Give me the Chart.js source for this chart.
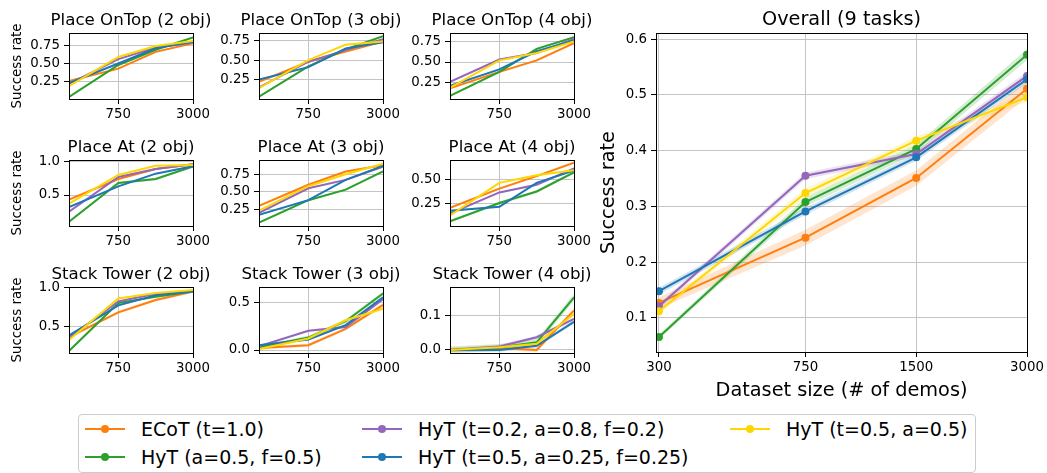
<!DOCTYPE html>
<html>
<head>
<meta charset="utf-8">
<script src="https://cdn.jsdelivr.net/npm/chart.js@4.4.1/dist/chart.umd.min.js"></script>
<style>
  html, body { margin: 0; padding: 0; background: #fff; overflow: hidden; }
  body { position: relative; width: 1047px; height: 473px; font-family: 'DejaVu Sans', sans-serif; }
  canvas { position: absolute; }
  .lg-box { position: absolute; left: 78px; top: 414px; width: 898px; height: 59px; box-sizing: border-box;
            border: 1px solid #cccccc; border-radius: 4px; background: rgba(255,255,255,0.8); }
  .lg-line { position: absolute; width: 40px; height: 2px; }
  .lg-dot { position: absolute; width: 8px; height: 8px; border-radius: 50%; }
  .lg-text { position: absolute; font-size: 19px; line-height: 22.8px; white-space: nowrap; color: #000; }
</style>
</head>
<body>
<div class="lg-box"></div>
<script>
// x values (number of demos), shared by every panel
const DEMOS = [300, 750, 1500, 3000];
const SMALL_XTICKS = [750, 3000];
const BIG_XTICKS = [300, 750, 1500, 3000];

const SERIES = [
    'ECoT (t=1.0)',
    'HyT (a=0.5, f=0.5)',
    'HyT (t=0.2, a=0.8, f=0.2)',
    'HyT (t=0.5, a=0.25, f=0.25)',
    'HyT (t=0.5, a=0.5)'
];
const COLORS = ['#ff7f0e', '#2ca02c', '#9467bd', '#1f77b4', '#ffd700'];
const BANDS = ['rgba(255,127,14,0.2)', 'rgba(44,160,44,0.2)', 'rgba(148,103,189,0.2)', 'rgba(31,119,180,0.2)', 'rgba(255,215,0,0.2)'];

const TASKS = [
    'Place OnTop (2 obj)', 'Place OnTop (3 obj)', 'Place OnTop (4 obj)',
    'Place At (2 obj)', 'Place At (3 obj)', 'Place At (4 obj)',
    'Stack Tower (2 obj)', 'Stack Tower (3 obj)', 'Stack Tower (4 obj)'
];

// one row per series (same order as SERIES), one value per DEMOS entry
const onTop2 = [
    [0.26, 0.43, 0.66, 0.78],
    [0.04, 0.48, 0.69, 0.86],
    [0.22, 0.56, 0.72, 0.79],
    [0.23, 0.50, 0.71, 0.80],
    [0.19, 0.59, 0.74, 0.81]
];
const onTop3 = [
    [0.22, 0.48, 0.61, 0.74],
    [0.03, 0.42, 0.64, 0.81],
    [0.15, 0.48, 0.63, 0.77],
    [0.25, 0.41, 0.65, 0.73],
    [0.14, 0.50, 0.70, 0.74]
];
const onTop4 = [
    [0.18, 0.38, 0.52, 0.73],
    [0.09, 0.38, 0.66, 0.80],
    [0.26, 0.53, 0.61, 0.78],
    [0.21, 0.41, 0.63, 0.76],
    [0.19, 0.52, 0.61, 0.75]
];
const at2 = [
    [0.43, 0.74, 0.89, 0.96],
    [0.10, 0.68, 0.74, 0.93],
    [0.25, 0.77, 0.89, 0.96],
    [0.32, 0.63, 0.82, 0.93],
    [0.37, 0.80, 0.94, 0.95]
];
const at3 = [
    [0.30, 0.60, 0.79, 0.88],
    [0.06, 0.38, 0.53, 0.79],
    [0.20, 0.55, 0.67, 0.86],
    [0.17, 0.38, 0.67, 0.87],
    [0.23, 0.58, 0.75, 0.90]
];
const at4 = [
    [0.21, 0.41, 0.54, 0.68],
    [0.07, 0.26, 0.38, 0.58],
    [0.15, 0.37, 0.45, 0.62],
    [0.18, 0.22, 0.47, 0.60],
    [0.13, 0.47, 0.55, 0.60]
];
const stack2 = [
    [0.36, 0.68, 0.84, 0.95],
    [0.18, 0.80, 0.88, 0.95],
    [0.35, 0.82, 0.92, 0.96],
    [0.38, 0.77, 0.90, 0.95],
    [0.32, 0.86, 0.93, 0.97]
];
const stack3 = [
    [0.02, 0.05, 0.22, 0.47],
    [0.03, 0.13, 0.30, 0.59],
    [0.04, 0.20, 0.24, 0.53],
    [0.05, 0.11, 0.26, 0.55],
    [0.01, 0.12, 0.31, 0.43]
];
const stack4 = [
    [0.000, 0.005, 0.000, 0.115],
    [0.000, 0.007, 0.022, 0.153],
    [0.000, 0.010, 0.037, 0.090],
    [0.000, 0.000, 0.012, 0.082],
    [0.000, 0.008, 0.018, 0.105]
];
const TASK_VALUES = [onTop2, onTop3, onTop4, at2, at3, at4, stack2, stack3, stack4];

// half width of the shaded band, one per series
const TASK_ERR = [
    [0.012, 0.012, 0.010, 0.010, 0.010],
    [0.012, 0.012, 0.010, 0.010, 0.010],
    [0.012, 0.012, 0.010, 0.010, 0.010],
    [0.012, 0.020, 0.012, 0.010, 0.010],
    [0.012, 0.015, 0.012, 0.010, 0.010],
    [0.012, 0.015, 0.010, 0.010, 0.010],
    [0.020, 0.012, 0.010, 0.010, 0.010],
    [0.015, 0.020, 0.012, 0.012, 0.015],
    [0.006, 0.010, 0.005, 0.005, 0.006]
];
const TASK_YTICKS = [
    [0.25, 0.5, 0.75], [0.25, 0.5, 0.75], [0.25, 0.5, 0.75],
    [0.5, 1.0], [0.25, 0.5, 0.75], [0.25, 0.5],
    [0.5, 1.0], [0.0, 0.5], [0.0, 0.1]
];
const TASK_DECIMALS = [2, 2, 2, 1, 2, 2, 1, 1, 1];
const TASK_YRANGE = [
    [0.012, 0.92], [0.0, 0.85], [0.051, 0.852],
    [0.035, 1.025], [0.011, 0.954], [0.02, 0.708],
    [0.153, 1.008], [-0.031, 0.657], [-0.009, 0.183]
];

const overall = [
    [0.127, 0.244, 0.351, 0.511],
    [0.066, 0.308, 0.403, 0.572],
    [0.121, 0.355, 0.394, 0.534],
    [0.148, 0.291, 0.388, 0.528],
    [0.112, 0.324, 0.418, 0.496]
];
const overallErr = [
    [0.010, 0.014, 0.014, 0.015],
    [0.004, 0.008, 0.008, 0.010],
    [0.005, 0.006, 0.006, 0.007],
    [0.006, 0.006, 0.006, 0.007],
    [0.005, 0.008, 0.007, 0.008]
];
const OVERALL_YTICKS = [0.1, 0.2, 0.3, 0.4, 0.5, 0.6];

const FONT = 'DejaVu Sans';
const GRID = '#c4c4c4';

// full box around the plot area, like matplotlib spines
const frame = {
    id: 'frame',
    afterDraw(chart) {
        const { ctx, chartArea: a } = chart;
        const px = v => Math.floor(v) + 0.5;
        ctx.save();
        ctx.strokeStyle = '#000';
        ctx.lineWidth = 1;
        ctx.strokeRect(px(a.left), px(a.top), px(a.right) - px(a.left), px(a.bottom) - px(a.top));
        ctx.restore();
    }
};

// title centred over the plot area (not over the whole canvas)
const panelTitle = {
    id: 'panelTitle',
    afterDraw(chart, args, opts) {
        const { ctx, chartArea: a } = chart;
        ctx.save();
        ctx.font = opts.size + 'px "' + FONT + '"';
        ctx.fillStyle = '#000';
        ctx.textAlign = 'center';
        ctx.textBaseline = 'alphabetic';
        ctx.fillText(opts.text, (a.left + a.right) / 2, a.top - opts.gap);
        ctx.restore();
    }
};

function makeCanvas(left, top, w, h) {
    const c = document.createElement('canvas');
    c.width = w;
    c.height = h;
    c.style.left = left + 'px';
    c.style.top = top + 'px';
    c.style.width = w + 'px';
    c.style.height = h + 'px';
    document.body.appendChild(c);
    return c;
}

function buildDatasets(values, errs, points) {
    const ds = [];
    values.forEach((vals, i) => {
        const e = Array.isArray(errs[i]) ? errs[i] : DEMOS.map(() => errs[i]);
        ds.push({
            data: DEMOS.map((x, k) => ({ x: x, y: vals[k] - e[k] })),
            borderWidth: 0, pointRadius: 0, fill: false, order: 100, clip: 0
        });
        ds.push({
            data: DEMOS.map((x, k) => ({ x: x, y: vals[k] + e[k] })),
            borderWidth: 0, pointRadius: 0, fill: { target: ds.length - 1 },
            backgroundColor: BANDS[i], order: 100, clip: 0
        });
    });
    values.forEach((vals, i) => {
        ds.push({
            label: SERIES[i],
            data: DEMOS.map((x, k) => ({ x: x, y: vals[k] })),
            borderColor: COLORS[i],
            backgroundColor: COLORS[i],
            borderWidth: 2,
            tension: 0,
            fill: false,
            pointRadius: points ? 4 : 0,
            pointBorderWidth: 0,
            pointBackgroundColor: COLORS[i],
            order: 50 - i,
            clip: 0
        });
    });
    return ds;
}

function render(cfg) {
    const canvas = makeCanvas(cfg.left, cfg.top, cfg.width, cfg.height);
    return new Chart(canvas, {
        type: 'line',
        data: { datasets: buildDatasets(cfg.values, cfg.errs, cfg.points) },
        options: {
            responsive: false,
            animation: false,
            events: [],
            layout: { padding: { left: 0, right: cfg.rightPad, top: cfg.topPad, bottom: 0 } },
            plugins: {
                legend: { display: false },
                tooltip: { enabled: false },
                title: { display: false },
                panelTitle: { text: cfg.title, size: cfg.titleSize, gap: 8 }
            },
            scales: {
                x: {
                    type: 'logarithmic',
                    min: cfg.xmin, max: cfg.xmax, bounds: 'data',
                    afterBuildTicks: s => { s.ticks = cfg.xticks.map(v => ({ value: v })); },
                    afterFit: s => { s.height = cfg.xh; },
                    border: { display: false },
                    grid: { color: GRID, lineWidth: 1, tickColor: '#000', tickLength: 5, tickWidth: 1 },
                    ticks: {
                        color: '#000', padding: 3, maxRotation: 0, autoSkip: false,
                        font: { family: FONT, size: 13.33 },
                        callback: v => String(v)
                    },
                    title: cfg.xtitle ? {
                        display: true, text: cfg.xtitle, color: '#000',
                        font: { family: FONT, size: 19.3 }, padding: { top: 0, bottom: 0.5 }
                    } : { display: false }
                },
                y: {
                    type: 'linear',
                    min: cfg.yrange[0], max: cfg.yrange[1], bounds: 'data',
                    afterBuildTicks: s => { s.ticks = cfg.yticks.map(v => ({ value: v })); },
                    afterFit: s => { s.width = cfg.yw; },
                    border: { display: false },
                    grid: { color: GRID, lineWidth: 1, tickColor: '#000', tickLength: 5, tickWidth: 1 },
                    ticks: {
                        color: '#000', padding: 4, autoSkip: false,
                        font: { family: FONT, size: 13.33 },
                        callback: v => v.toFixed(cfg.decimals)
                    },
                    title: cfg.ytitle ? {
                        display: true, text: cfg.ytitle, color: '#000',
                        font: { family: FONT, size: cfg.ytitleSize }, padding: { top: cfg.ytitlePad, bottom: 0 }
                    } : { display: false }
                }
            }
        },
        plugins: [frame, panelTitle]
    });
}

// small panels, 3 x 3 grid
const COL_LEFT = [69, 259, 450];
const ROW_TOP = [33, 160, 287];
TASKS.forEach((name, t) => {
    const c = t % 3, r = Math.floor(t / 3);
    const yw = c === 0 ? 69 : 45;
    render({
        left: COL_LEFT[c] - yw, top: ROW_TOP[r] - 24,
        width: yw + 124 + 20, height: 24 + 66 + 28,
        rightPad: 20, topPad: 24, yw: yw, xh: 28,
        title: name, titleSize: 16.67,
        values: TASK_VALUES[t], errs: TASK_ERR[t], points: false,
        xmin: 300, xmax: 3000, xticks: SMALL_XTICKS,
        yrange: TASK_YRANGE[t], yticks: TASK_YTICKS[t], decimals: TASK_DECIMALS[t],
        ytitle: c === 0 ? 'Success rate' : null, ytitleSize: 13.33, ytitlePad: 9.5
    });
});

// overall panel
render({
    left: 590, top: 0, width: 66 + 372 + 19, height: 33 + 319 + 51,
    rightPad: 19, topPad: 33, yw: 66, xh: 51,
    title: 'Overall (9 tasks)', titleSize: 19.3,
    values: overall, errs: overallErr, points: true,
    xmin: 294.5, xmax: 3000, xticks: BIG_XTICKS,
    yrange: [0.039, 0.611], yticks: OVERALL_YTICKS, decimals: 1,
    xtitle: 'Dataset size (# of demos)',
    ytitle: 'Success rate', ytitleSize: 19.3, ytitlePad: 7
});

// legend, column-major like matplotlib ncol=3
const LEGEND_COLS = [[0, 1], [2, 3], [4]];
const LEGEND_X = [85, 362, 730];
const LEGEND_Y = [429.3, 457.3];
LEGEND_COLS.forEach((items, c) => {
    items.forEach((s, r) => {
        const x = LEGEND_X[c], y = LEGEND_Y[r];
        const line = document.createElement('div');
        line.className = 'lg-line';
        line.style.left = x + 'px';
        line.style.top = (y - 1) + 'px';
        line.style.background = COLORS[s];
        const dot = document.createElement('div');
        dot.className = 'lg-dot';
        dot.style.left = (x + 16) + 'px';
        dot.style.top = (y - 4) + 'px';
        dot.style.background = COLORS[s];
        const txt = document.createElement('div');
        txt.className = 'lg-text';
        txt.style.left = (x + 56) + 'px';
        txt.style.top = (y - 11.4) + 'px';
        txt.textContent = SERIES[s];
        document.body.appendChild(line);
        document.body.appendChild(dot);
        document.body.appendChild(txt);
    });
});
</script>
</body>
</html>
